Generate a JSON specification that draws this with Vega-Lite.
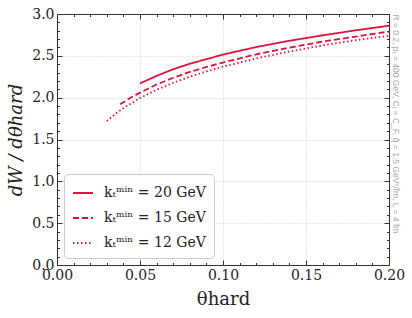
{
  "$schema": "https://vega.github.io/schema/vega-lite/v6.json",
  "width": 332,
  "height": 251,
  "autosize": {"type": "none"},
  "padding": {"left": 57, "top": 14, "right": 23, "bottom": 53},
  "data": {"values": [
    {"theta": 0.05, "W": 2.17, "series": "kₜᵐⁱⁿ = 20 GeV"},
    {"theta": 0.06, "W": 2.26, "series": "kₜᵐⁱⁿ = 20 GeV"},
    {"theta": 0.07, "W": 2.34, "series": "kₜᵐⁱⁿ = 20 GeV"},
    {"theta": 0.08, "W": 2.405, "series": "kₜᵐⁱⁿ = 20 GeV"},
    {"theta": 0.09, "W": 2.46, "series": "kₜᵐⁱⁿ = 20 GeV"},
    {"theta": 0.10, "W": 2.515, "series": "kₜᵐⁱⁿ = 20 GeV"},
    {"theta": 0.12, "W": 2.605, "series": "kₜᵐⁱⁿ = 20 GeV"},
    {"theta": 0.14, "W": 2.68, "series": "kₜᵐⁱⁿ = 20 GeV"},
    {"theta": 0.16, "W": 2.745, "series": "kₜᵐⁱⁿ = 20 GeV"},
    {"theta": 0.18, "W": 2.805, "series": "kₜᵐⁱⁿ = 20 GeV"},
    {"theta": 0.20, "W": 2.86, "series": "kₜᵐⁱⁿ = 20 GeV"},
    {"theta": 0.038, "W": 1.92, "series": "kₜᵐⁱⁿ = 15 GeV"},
    {"theta": 0.044, "W": 1.995, "series": "kₜᵐⁱⁿ = 15 GeV"},
    {"theta": 0.05, "W": 2.06, "series": "kₜᵐⁱⁿ = 15 GeV"},
    {"theta": 0.06, "W": 2.157, "series": "kₜᵐⁱⁿ = 15 GeV"},
    {"theta": 0.07, "W": 2.238, "series": "kₜᵐⁱⁿ = 15 GeV"},
    {"theta": 0.08, "W": 2.307, "series": "kₜᵐⁱⁿ = 15 GeV"},
    {"theta": 0.09, "W": 2.367, "series": "kₜᵐⁱⁿ = 15 GeV"},
    {"theta": 0.10, "W": 2.42, "series": "kₜᵐⁱⁿ = 15 GeV"},
    {"theta": 0.12, "W": 2.518, "series": "kₜᵐⁱⁿ = 15 GeV"},
    {"theta": 0.14, "W": 2.598, "series": "kₜᵐⁱⁿ = 15 GeV"},
    {"theta": 0.16, "W": 2.67, "series": "kₜᵐⁱⁿ = 15 GeV"},
    {"theta": 0.18, "W": 2.73, "series": "kₜᵐⁱⁿ = 15 GeV"},
    {"theta": 0.20, "W": 2.79, "series": "kₜᵐⁱⁿ = 15 GeV"},
    {"theta": 0.03, "W": 1.72, "series": "kₜᵐⁱⁿ = 12 GeV"},
    {"theta": 0.035, "W": 1.803, "series": "kₜᵐⁱⁿ = 12 GeV"},
    {"theta": 0.04, "W": 1.875, "series": "kₜᵐⁱⁿ = 12 GeV"},
    {"theta": 0.05, "W": 1.996, "series": "kₜᵐⁱⁿ = 12 GeV"},
    {"theta": 0.06, "W": 2.094, "series": "kₜᵐⁱⁿ = 12 GeV"},
    {"theta": 0.07, "W": 2.178, "series": "kₜᵐⁱⁿ = 12 GeV"},
    {"theta": 0.08, "W": 2.25, "series": "kₜᵐⁱⁿ = 12 GeV"},
    {"theta": 0.09, "W": 2.313, "series": "kₜᵐⁱⁿ = 12 GeV"},
    {"theta": 0.10, "W": 2.37, "series": "kₜᵐⁱⁿ = 12 GeV"},
    {"theta": 0.12, "W": 2.469, "series": "kₜᵐⁱⁿ = 12 GeV"},
    {"theta": 0.14, "W": 2.552, "series": "kₜᵐⁱⁿ = 12 GeV"},
    {"theta": 0.16, "W": 2.624, "series": "kₜᵐⁱⁿ = 12 GeV"},
    {"theta": 0.18, "W": 2.687, "series": "kₜᵐⁱⁿ = 12 GeV"},
    {"theta": 0.20, "W": 2.74, "series": "kₜᵐⁱⁿ = 12 GeV"}
  ]},
  "config": {
    "view": {"stroke": "#333", "strokeWidth": 1},
    "axis": {
      "labelFont": "DejaVu Serif",
      "titleFont": "DejaVu Serif",
      "labelFontSize": 14,
      "labelColor": "#222",
      "titleColor": "#222",
      "titleFontWeight": "normal",
      "domainColor": "#333",
      "tickColor": "#333",
      "labelFlush": false,
      "labelOverlap": false
    },
    "legend": {
      "labelFont": "DejaVu Serif",
      "labelFontSize": 14,
      "labelColor": "#222"
    }
  },
  "resolve": {"axis": {"x": "independent", "y": "independent"}},
  "layer": [
    {
      "mark": {"type": "line", "strokeWidth": 1.8},
      "encoding": {
        "x": {"field": "theta", "type": "quantitative",
          "scale": {"domain": [0, 0.2], "nice": false, "zero": false},
          "axis": {"orient": "bottom", "values": [0, 0.05, 0.1, 0.15, 0.2], "format": ".2f",
            "tickSize": -5, "labelPadding": 8, "grid": true, "gridDash": [1, 2], "gridColor": "#ccc",
            "title": "θhard", "titleFontSize": 18, "titlePadding": 8}},
        "y": {"field": "W", "type": "quantitative",
          "scale": {"domain": [0, 3], "nice": false, "zero": false},
          "axis": {"orient": "left", "values": [0, 0.5, 1, 1.5, 2, 2.5, 3], "format": ".1f",
            "tickSize": -5, "labelPadding": 8, "grid": true, "gridDash": [1, 2], "gridColor": "#ccc",
            "title": "dW / dθhard", "titleFontSize": 18, "titleFontStyle": "italic", "titlePadding": 6}},
        "color": {"field": "series", "type": "nominal",
          "scale": {"domain": ["kₜᵐⁱⁿ = 20 GeV", "kₜᵐⁱⁿ = 15 GeV", "kₜᵐⁱⁿ = 12 GeV"], "range": ["#dc143c", "#dc143c", "#dc143c"]},
          "legend": {"title": null, "orient": "bottom-left", "offset": 7, "symbolType": "stroke", "symbolSize": 400,
            "symbolStrokeWidth": 1.8, "strokeColor": "#ccc", "fillColor": "white", "cornerRadius": 4, "padding": 8,
            "rowPadding": 7, "labelOffset": 10}},
        "strokeDash": {"field": "series", "type": "nominal",
          "scale": {"domain": ["kₜᵐⁱⁿ = 20 GeV", "kₜᵐⁱⁿ = 15 GeV", "kₜᵐⁱⁿ = 12 GeV"], "range": [[1, 0], [6, 3], [1.5, 2.5]]},
          "legend": {"title": null}}
      }
    },
    {
      "mark": {"type": "line", "opacity": 0},
      "encoding": {
        "x": {"field": "theta", "type": "quantitative", "scale": {"domain": [0, 0.2], "nice": false, "zero": false},
          "axis": {"orient": "top", "values": [0, 0.05, 0.1, 0.15, 0.2], "tickSize": -5, "labels": false, "title": null, "grid": false}},
        "y": {"field": "W", "type": "quantitative", "scale": {"domain": [0, 3], "nice": false, "zero": false},
          "axis": {"orient": "right", "values": [0, 0.5, 1, 1.5, 2, 2.5, 3], "tickSize": -5, "labels": false, "grid": false,
            "title": "R = 0.2, pₜ = 400 GeV, Cᵢ = C_F, q̂ = 1.5 GeV²/fm, L = 4 fm",
            "titleFont": "Liberation Sans", "titleFontSize": 8.5, "titleColor": "#aaa", "titleAngle": 90,
            "titleAnchor": "end", "titleAlign": "left", "titleBaseline": "middle", "titlePadding": 6}},
        "detail": {"field": "series"}
      }
    },
    {
      "mark": {"type": "line", "opacity": 0},
      "encoding": {
        "x": {"field": "theta", "type": "quantitative", "scale": {"domain": [0, 0.2], "nice": false, "zero": false},
          "axis": {"orient": "bottom", "values": [0.01, 0.02, 0.03, 0.04, 0.06, 0.07, 0.08, 0.09, 0.11, 0.12, 0.13, 0.14, 0.16, 0.17, 0.18, 0.19], "tickSize": -2.5, "labels": false, "title": null, "grid": false, "domain": false}},
        "y": {"field": "W", "type": "quantitative", "scale": {"domain": [0, 3], "nice": false, "zero": false},
          "axis": {"orient": "left", "values": [0.1, 0.2, 0.3, 0.4, 0.6, 0.7, 0.8, 0.9, 1.1, 1.2, 1.3, 1.4, 1.6, 1.7, 1.8, 1.9, 2.1, 2.2, 2.3, 2.4, 2.6, 2.7, 2.8, 2.9], "tickSize": -2.5, "labels": false, "title": null, "grid": false, "domain": false}},
        "detail": {"field": "series"}
      }
    },
    {
      "mark": {"type": "line", "opacity": 0},
      "encoding": {
        "x": {"field": "theta", "type": "quantitative", "scale": {"domain": [0, 0.2], "nice": false, "zero": false},
          "axis": {"orient": "top", "values": [0.01, 0.02, 0.03, 0.04, 0.06, 0.07, 0.08, 0.09, 0.11, 0.12, 0.13, 0.14, 0.16, 0.17, 0.18, 0.19], "tickSize": -2.5, "labels": false, "title": null, "grid": false, "domain": false}},
        "y": {"field": "W", "type": "quantitative", "scale": {"domain": [0, 3], "nice": false, "zero": false},
          "axis": {"orient": "right", "values": [0.1, 0.2, 0.3, 0.4, 0.6, 0.7, 0.8, 0.9, 1.1, 1.2, 1.3, 1.4, 1.6, 1.7, 1.8, 1.9, 2.1, 2.2, 2.3, 2.4, 2.6, 2.7, 2.8, 2.9], "tickSize": -2.5, "labels": false, "title": null, "grid": false, "domain": false}},
        "detail": {"field": "series"}
      }
    }
  ]
}
